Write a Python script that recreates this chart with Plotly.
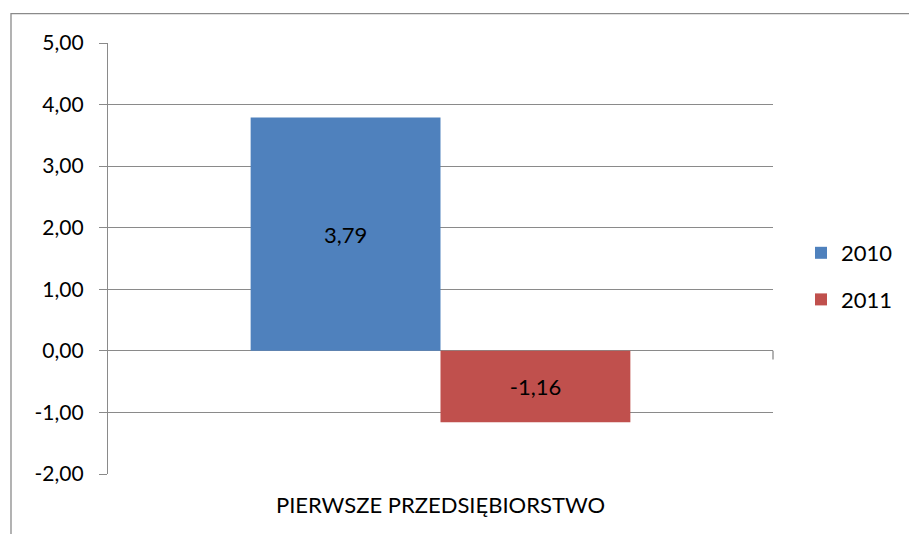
import plotly.graph_objects as go

categories = ["PIERWSZE PRZEDSIĘBIORSTWO"]
series_names = ["2010", "2011"]
values_2010 = [3.79]
values_2011 = [-1.16]
y_ticks = [-2, -1, 0, 1, 2, 3, 4, 5]
y_tick_labels = ["-2,00", "-1,00", "0,00", "1,00", "2,00", "3,00", "4,00", "5,00"]
colors = ["#4F81BD", "#C0504D"]

FONT = "Lato"
FS = 22

fig = go.Figure()
for name, vals, col in zip(series_names, [values_2010, values_2011], colors):
    fig.add_trace(go.Bar(
        x=categories, y=vals, name=name, legendgroup=name,
        marker=dict(color=col, line=dict(width=0)),
        text=[f"{v:.2f}".replace(".", ",") for v in vals],
        texttemplate="%{text}", textposition="inside",
        insidetextanchor="middle",
        textfont=dict(color="black", size=FS, family=FONT),
        constraintext="none",
    ))

L, R, T, B = 108, 136, 42.5, 59.7
W, H = 909, 534
pw, ph = W - L - R, H - T - B

def px(xp):
    return (xp - L) / pw

def py(yp):
    return (H - B - yp) / ph

fig.update_layout(
    width=W, height=H,
    margin=dict(l=L, r=R, t=T, b=B, pad=0, autoexpand=False),
    paper_bgcolor="white", plot_bgcolor="white",
    barmode="group", bargap=0.429, bargroupgap=0,
    font=dict(family=FONT, size=FS, color="black"),
    showlegend=True,
    legend=dict(xref="container", yref="container",
                x=801 / W, y=1 - 232 / H, xanchor="left", yanchor="top",
                traceorder="grouped", tracegroupgap=15,
                font=dict(size=FS, family=FONT),
                itemwidth=30, bgcolor="rgba(0,0,0,0)"),
    xaxis=dict(showgrid=False, showline=False, ticks="", zeroline=False,
               automargin=False,
               tickfont=dict(size=FS, family=FONT), ticklabelstandoff=16),
    yaxis=dict(range=[-2, 5], tickvals=y_ticks, ticktext=y_tick_labels,
               automargin=False,
               showgrid=True, gridcolor="#8A8A8A", gridwidth=1.3,
               zeroline=True, zerolinecolor="#8A8A8A", zerolinewidth=1.3,
               showline=True, linecolor="#8A8A8A", linewidth=1.3,
               ticks="outside", ticklen=8, tickcolor="#8A8A8A", tickwidth=1.3,
               tickfont=dict(size=21, family=FONT), ticklabelstandoff=11),
    shapes=[
        dict(type="rect", xref="paper", yref="paper",
             x0=px(11), x1=px(914), y0=py(540), y1=py(13),
             line=dict(color="#8A8A8A", width=1.3), fillcolor="rgba(0,0,0,0)",
             layer="below"),
        dict(type="line", xref="paper", yref="y", x0=1, x1=1, y0=0,
             y1=-0.14, line=dict(color="#8A8A8A", width=1.3)),
    ],
)

fig.write_html("out.html",
               config={"displayModeBar": False, "responsive": False},
               post_script="document.body.style.margin='0';document.body.style.overflow='hidden';")
